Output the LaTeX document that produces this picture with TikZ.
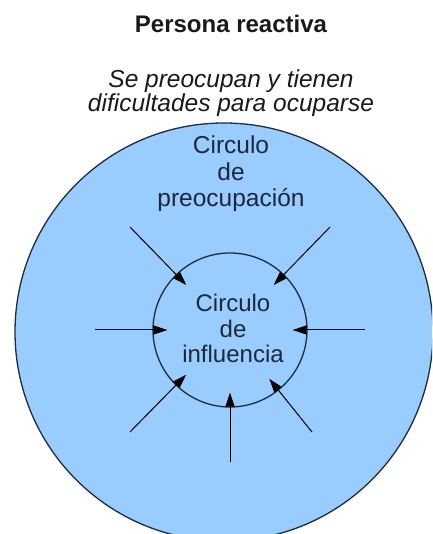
\documentclass[tikz,border=0pt]{standalone}
\usepackage{fontspec}
\setmainfont{Liberation Sans}
\usetikzlibrary{arrows.meta}
\definecolor{circfill}{HTML}{99CCFF}
\definecolor{circline}{HTML}{1F2D3D}
\definecolor{txt}{HTML}{1A1A1A}
\definecolor{ctxt}{HTML}{1E2838}
\tikzset{
  title/.style={font=\fontsize{24}{24}\selectfont\bfseries, text=txt, inner sep=0pt, anchor=base},
  subtitle/.style={font=\fontsize{24.5}{24}\selectfont\itshape, text=txt, inner sep=0pt, anchor=base, align=center},
  outerlabel/.style={font=\fontsize{24.5}{26.5}\selectfont, text=ctxt, inner sep=0pt, anchor=base, align=center},
  innerlabel/.style={font=\fontsize{24}{25.5}\selectfont, text=ctxt, inner sep=0pt, anchor=base, align=center},
  bigcirc/.style={circle, draw=circline, fill=circfill, line width=1.3pt, minimum size=418pt, inner sep=0pt},
  smallcirc/.style={circle, draw=circline, line width=1.3pt, minimum size=154pt, inner sep=0pt},
  arr/.style={draw=black, line width=1pt, -{Triangle[length=14pt,width=9pt]}, shorten >=-15pt}
}
\begin{document}
\begin{tikzpicture}[x=1pt,y=1pt]
  \useasboundingbox (0,0) rectangle (432,534);
  \clip (0,0) rectangle (432,534);
  \fill[white] (0,0) rectangle (432,534);
  \node[bigcirc] (conc) at (224,202) {};
  \node[smallcirc] (infl) at (230,204) {};
  \node[title] (t) at (231,501) {Persona reactiva};
  \node[subtitle] (s) at (231,422) {Se preocupan y tienen\\dificultades para ocuparse};
  \node[outerlabel] (lc) at (231,327) {Circulo\\de\\preocupación};
  \node[innerlabel] (li) at (233,171) {Circulo\\de\\influencia};
  \coordinate (a1) at (130,307);
  \coordinate (a2) at (330,307);
  \coordinate (a3) at (95,204);
  \coordinate (a4) at (365,204);
  \coordinate (a5) at (230,72);
  \coordinate (a6) at (130,102);
  \coordinate (a7) at (312,102);
  \foreach \p in {a1,a2,a3,a4,a5,a6,a7} \draw[arr] (\p) -- (infl);
\end{tikzpicture}
\end{document}
